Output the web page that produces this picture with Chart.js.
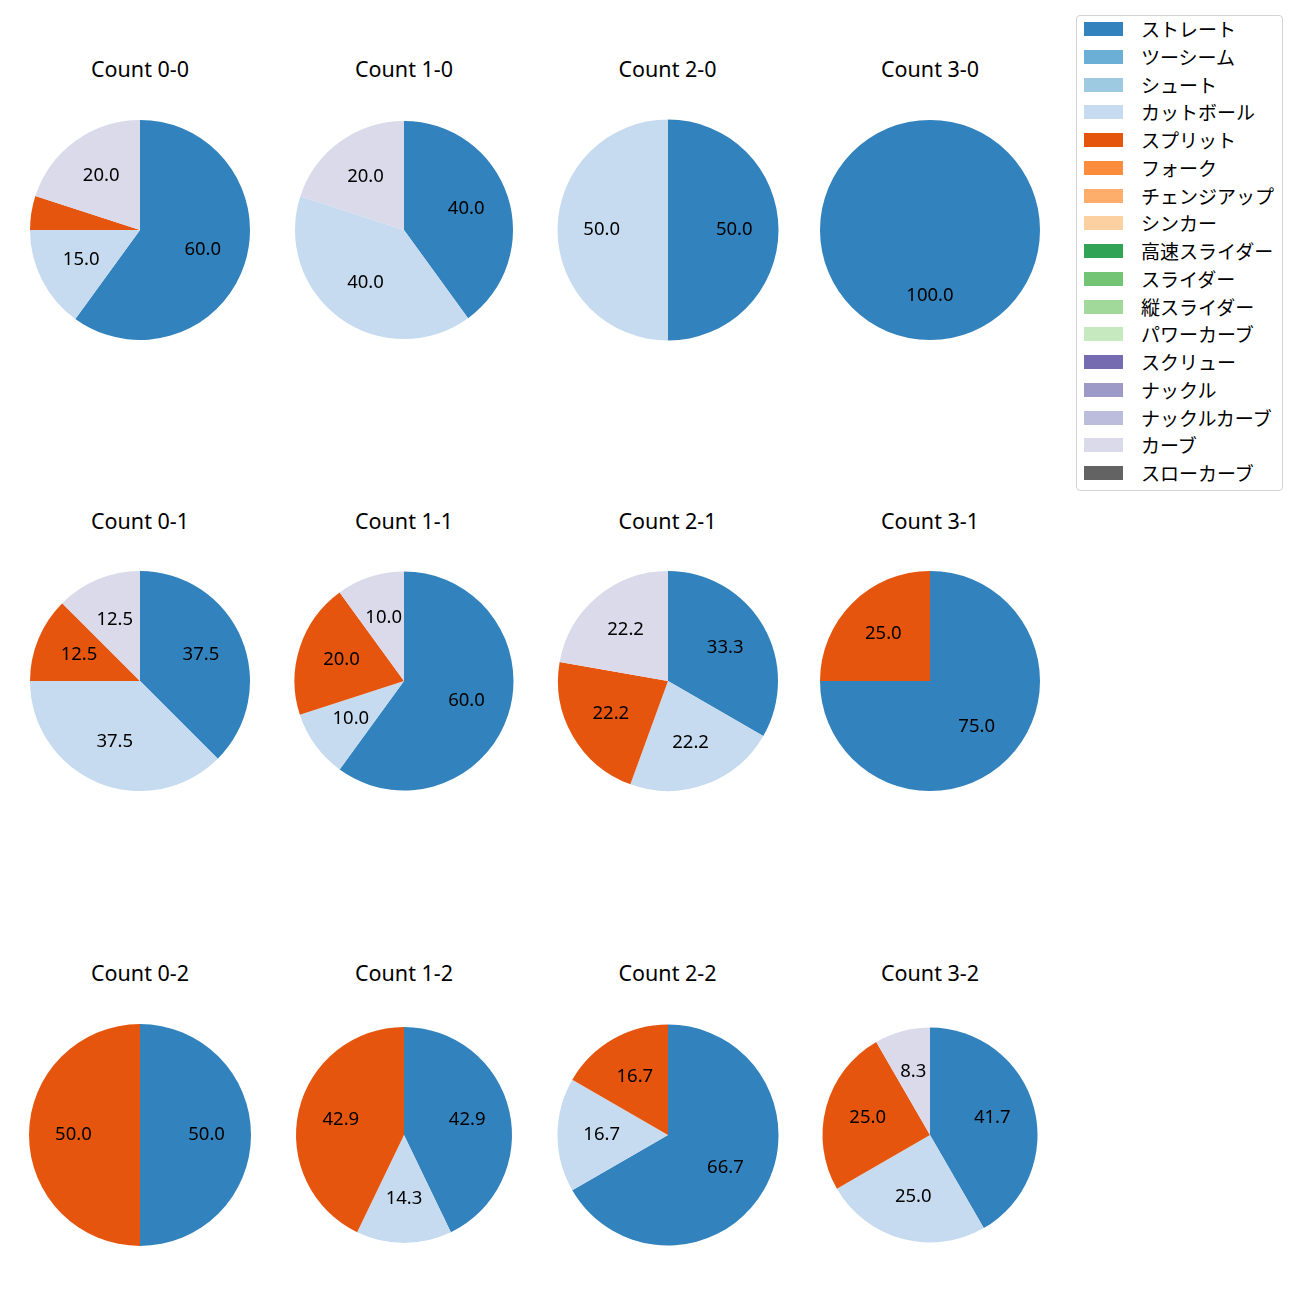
<!DOCTYPE html>
<html>
<head>
<meta charset="utf-8">
<script src="https://cdn.jsdelivr.net/npm/chart.js@4.4.1/dist/chart.umd.min.js"></script>
<style>
  body { margin: 0; background: #fff; width: 1300px; height: 1300px; position: relative; overflow: hidden;
         font-family: "Noto Sans", "Noto Sans CJK JP", sans-serif; color: #000; }
  .pie { position: absolute; }
  .title { position: absolute; width: 240px; text-align: center; font-size: 21.5px; line-height: 1; white-space: nowrap; }
  #legend { position: absolute; left: 1076px; top: 15px; width: 205px; height: 474px;
            border: 1px solid #d3d3d3; border-radius: 4px; background: #fff; }
  .row { position: absolute; left: 0; height: 24px; line-height: 24px; font-size: 19px; white-space: nowrap;
         font-family: "Noto Sans CJK JP", sans-serif; }
  .swatch { position: absolute; left: 7px; top: 5px; width: 39px; height: 14px; }
  .name { position: absolute; left: 64px; top: 0; }
</style>
</head>
<body>
<div id="legend"></div>
<script>
(function () {
  "use strict";

  const COUNTS = ["0-0", "1-0", "2-0", "3-0", "0-1", "1-1", "2-1", "3-1", "0-2", "1-2", "2-2", "3-2"];

  const PITCHES = [
    "ストレート", "ツーシーム", "シュート", "カットボール", "スプリット", "フォーク",
    "チェンジアップ", "シンカー", "高速スライダー", "スライダー", "縦スライダー",
    "パワーカーブ", "スクリュー", "ナックル", "ナックルカーブ", "カーブ", "スローカーブ"
  ];

  const PALETTE = [
    "#3182bd", "#6baed6", "#9ecae1", "#c6dbef", "#e6550d", "#fd8d3c",
    "#fdae6b", "#fdd0a2", "#31a354", "#74c476", "#a1d99b", "#c7e9c0",
    "#756bb1", "#9e9ac8", "#bcbddc", "#dadaeb", "#636363"
  ];

  // pitches thrown per count, in COUNTS order
  const straight   = [12, 2, 1, 1, 3, 6, 3, 3, 1, 3, 4, 5];
  const cutter     = [3, 2, 1, 0, 3, 1, 2, 0, 0, 1, 1, 3];
  const split      = [1, 0, 0, 0, 1, 2, 2, 1, 1, 3, 1, 3];
  const curve      = [4, 1, 0, 0, 1, 1, 2, 0, 0, 0, 0, 1];
  const none       = [0, 0, 0, 0, 0, 0, 0, 0, 0, 0, 0, 0];

  const SERIES = [
    straight, none, none, cutter, split, none,
    none, none, none, none, none,
    none, none, none, none, curve, none
  ];

  // layout of the 4x3 grid
  const COL_X = [140, 404, 667.5, 930];
  const ROW_Y = [229.5, 681, 1134.5];
  const TITLE_BASE = [76.7, 528.7, 980.7];
  const RADII = [110, 109, 110.5, 110, 110, 109.5, 110, 110, 111, 108, 110.5, 107.5];
  const PAD = 14;
  const BOX = 2 * (111 + PAD);

  const pctLabels = {
    id: "pctLabels",
    afterDatasetsDraw(chart) {
      const ctx = chart.ctx;
      const meta = chart.getDatasetMeta(0);
      const data = chart.data.datasets[0].data;
      const total = data.reduce((a, b) => a + b, 0);
      const size = 18.5;
      ctx.save();
      ctx.font = size + "px 'Noto Sans'";
      ctx.fillStyle = "#000";
      ctx.textAlign = "center";
      ctx.textBaseline = "alphabetic";
      meta.data.forEach((arc, i) => {
        const v = data[i];
        if (!v) return;
        const pct = v / total * 100;
        if (pct <= 5) return;
        const p = arc.getProps(["x", "y", "startAngle", "endAngle", "outerRadius"], true);
        const mid = (p.startAngle + p.endAngle) / 2;
        const r = p.outerRadius * 0.6;
        ctx.fillText(pct.toFixed(1), p.x + Math.cos(mid) * r, p.y + Math.sin(mid) * r + size * 0.357 - 2);
      });
      ctx.restore();
    }
  };

  COUNTS.forEach((count, c) => {
    const col = c % 4;
    const row = Math.floor(c / 4);
    const cx = COL_X[col];
    const cy = ROW_Y[row];

    const title = document.createElement("div");
    title.className = "title";
    title.textContent = "Count " + count;
    title.style.left = (cx - 120) + "px";
    title.style.top = (TITLE_BASE[row] - 21.5 * 0.888) + "px";
    document.body.appendChild(title);

    const canvas = document.createElement("canvas");
    canvas.className = "pie";
    canvas.width = BOX;
    canvas.height = BOX;
    canvas.style.left = (cx - BOX / 2) + "px";
    canvas.style.top = (cy - BOX / 2) + "px";
    document.body.appendChild(canvas);

    new Chart(canvas, {
      type: "pie",
      data: {
        labels: PITCHES,
        datasets: [{
          data: SERIES.map((s) => s[c]),
          backgroundColor: PALETTE,
          borderWidth: 0,
          hoverOffset: 0
        }]
      },
      options: {
        responsive: false,
        animation: false,
        radius: RADII[c],
        layout: { padding: PAD },
        plugins: { legend: { display: false }, tooltip: { enabled: true } }
      },
      plugins: [pctLabels]
    });
  });

  const legend = document.getElementById("legend");
  PITCHES.forEach((name, i) => {
    const row = document.createElement("div");
    row.className = "row";
    row.style.top = (29.5 - 16 - 12.5 + i * 27.75) + "px";
    const sw = document.createElement("div");
    sw.className = "swatch";
    sw.style.background = PALETTE[i];
    const label = document.createElement("div");
    label.className = "name";
    label.textContent = name;
    row.appendChild(sw);
    row.appendChild(label);
    legend.appendChild(row);
  });
})();
</script>
</body>
</html>
